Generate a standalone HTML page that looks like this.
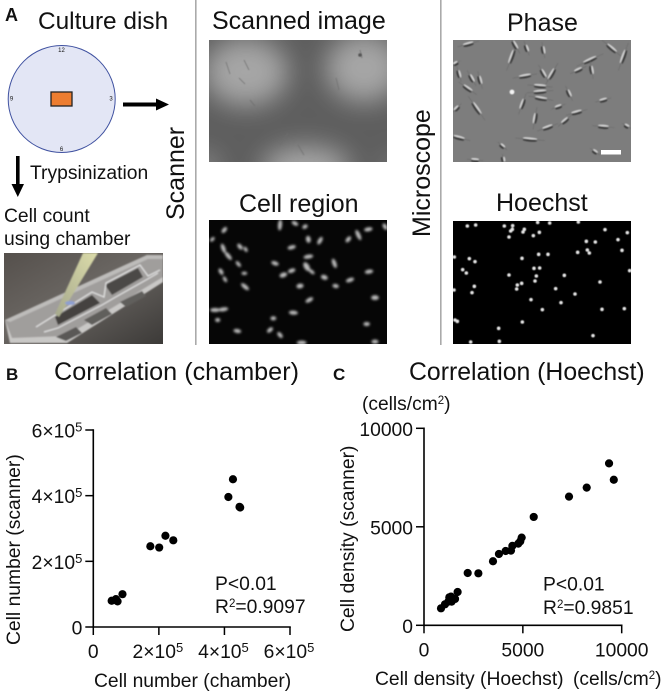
<!DOCTYPE html>
<html><head><meta charset="utf-8">
<style>
html,body{margin:0;padding:0;background:#fff}
svg{display:block}
text{font-family:"Liberation Sans",sans-serif;fill:#111}
.t{font-size:25px}
.m{font-size:19.3px}
.tick{font-size:19.3px}
.ax{font-size:19.3px}
.pl{font-size:17px;font-weight:bold}
</style></head>
<body>
<svg id="fig" xmlns="http://www.w3.org/2000/svg" width="663" height="693" viewBox="0 0 663 693">
<defs>
<filter id="b1" x="-50%" y="-50%" width="200%" height="200%"><feGaussianBlur stdDeviation="1.25"/></filter>
<filter id="b2" x="-20%" y="-20%" width="140%" height="140%"><feGaussianBlur stdDeviation="0.5"/></filter>
<filter id="b3" x="-20%" y="-20%" width="140%" height="140%"><feGaussianBlur stdDeviation="0.8"/></filter>
<filter id="b5" x="-40%" y="-40%" width="180%" height="180%"><feGaussianBlur stdDeviation="13"/></filter>
<clipPath id="c-scan"><rect x="209" y="40" width="178" height="122"/></clipPath>
<clipPath id="c-cell"><rect x="209" y="220" width="178" height="124"/></clipPath>
<clipPath id="c-phase"><rect x="453" y="40" width="178" height="122"/></clipPath>
<clipPath id="c-hoe"><rect x="453" y="221" width="178" height="123"/></clipPath>
<clipPath id="c-photo"><rect x="4" y="253" width="159" height="91"/></clipPath>
<linearGradient id="bench" x1="0" y1="0" x2="1" y2="1"><stop offset="0" stop-color="#55504c"/><stop offset=".45" stop-color="#6a6662"/><stop offset="1" stop-color="#3c3a38"/></linearGradient>
<linearGradient id="tip" x1="0" y1="1" x2="1" y2="0"><stop offset="0" stop-color="#a5a88c"/><stop offset="1" stop-color="#dcdcaa"/></linearGradient>
</defs>

<text class="pl" x="5" y="21" style="font-size:18px;font-weight:bold">A</text>
<text class="t" x="38" y="29" style="font-size:24.4px">Culture dish</text>

<g>
<circle cx="61.7" cy="99" r="53.5" fill="#e3e6f5" stroke="#3f51a0" stroke-width="1"/>
<rect x="51" y="92" width="21" height="14" fill="#ed7d31" stroke="#222" stroke-width="1.3"/>
<text x="61.5" y="52" text-anchor="middle" style="font-size:6px">12</text>
<text x="61.5" y="151" text-anchor="middle" style="font-size:6px">6</text>
<text x="11.5" y="100.5" text-anchor="middle" style="font-size:6px">9</text>
<text x="111" y="100.5" text-anchor="middle" style="font-size:6px">3</text>
</g>
<g><rect x="123" y="102.5" width="35" height="4" fill="#000"/><polygon points="156,98.5 169,104.5 156,110.5" fill="#000"/></g>
<g><rect x="16" y="156" width="3.6" height="30" fill="#000"/><polygon points="11.5,184 24,184 17.8,197" fill="#000"/></g>
<text class="m" x="30" y="179">Trypsinization</text>
<text class="m" x="4" y="222">Cell count</text>
<text class="m" x="4" y="245">using chamber</text>

<g clip-path="url(#c-photo)">
<rect x="4" y="253" width="159" height="91" fill="url(#bench)"/>
<g filter="url(#b3)">
<polygon points="5,320 147,255 163,255 163,282 67,343 10,343" fill="#a09e9c"/>
<polygon points="5,320 10,343 67,343 163,282 163,277 66,336 12,338" fill="#c9c8c6"/>
<polygon points="5,320 147,255 163,255 163,259 148,259 10,322" fill="#bdbcba"/>
<polygon points="55,317 92,295 100,303 58,325" fill="#444240"/>
<polygon points="105,285 138,268 143,277 112,295" fill="#4b4946"/>
<polyline points="36,327 92,292 104,297 106,283 140,265 148,276 160,270" fill="none" stroke="#e4e4e4" stroke-width="1.2"/>
<polyline points="44,332 58,328 102,305 114,298 146,280 158,273" fill="none" stroke="#e0e0e0" stroke-width="1.2"/>
<polygon points="84,320 106,308 112,314 92,325" fill="#605e5c"/>
<polygon points="120,302 142,291 146,296 126,307" fill="#605e5c"/>
<polygon points="56,337 76,327 82,333 66,341" fill="#5a5856"/>
<polygon points="55,314 83,253 98,253 59,317" fill="url(#tip)"/>
<ellipse cx="70" cy="303" rx="5" ry="2" fill="#8d9fd0"/>
</g>
</g>

<g transform="translate(184,220) rotate(-90)"><text class="t" x="0" y="0">Scanner</text></g>
<rect x="195" y="0" width="1.6" height="345" fill="#aaa"/>
<text class="t" x="212" y="29">Scanned image</text>
<text class="t" x="239" y="212">Cell region</text>

<g clip-path="url(#c-scan)">
<rect x="209" y="40" width="178" height="122" fill="#5e5e5e"/>
<g filter="url(#b5)" fill="#a6a6a6">
<ellipse cx="246" cy="72" rx="42" ry="34"/>
<ellipse cx="364" cy="68" rx="38" ry="34"/>
<ellipse cx="306" cy="168" rx="44" ry="22"/>
<ellipse cx="203" cy="168" rx="16" ry="16" opacity=".6"/>
<ellipse cx="394" cy="168" rx="12" ry="14" opacity=".4"/>
</g>
<g stroke="#6e6e6e" stroke-width="1" fill="none" filter="url(#b2)" opacity=".7">
<path d="M226,62 l4,12"/><path d="M244,60 l5,10"/><path d="M239,78 l6,6"/><path d="M360,50 l2,8"/><path d="M336,78 l3,12"/><path d="M250,100 l5,6"/><path d="M280,145 l8,-12"/><path d="M304,155 l-6,-10"/>
</g>
<circle cx="360" cy="55" r="1.8" fill="#555" filter="url(#b2)"/>
</g>

<g id="cell-region" clip-path="url(#c-cell)">
<rect x="209" y="220" width="178" height="124" fill="#060606"/>
</g>

<rect x="440" y="0" width="1.6" height="345" fill="#aaa"/>
<g transform="translate(430,237) rotate(-90)"><text class="t" x="0" y="0">Microscope</text></g>
<text class="t" x="507" y="31">Phase</text>
<text class="t" x="496" y="211">Hoechst</text>

<g id="phase" clip-path="url(#c-phase)">
<rect x="453" y="40" width="178" height="122" fill="#7d7d7d"/>
</g>
<rect x="601" y="150" width="20" height="4.5" fill="#fff"/>

<g id="hoechst" clip-path="url(#c-hoe)">
<rect x="453" y="221" width="178" height="123" fill="#000"/>
</g>

<text class="pl" x="6" y="380">B</text>
<text class="t" x="54" y="380" style="font-size:25.2px">Correlation (chamber)</text>
<text class="pl" x="333" y="380">C</text>
<text class="t" x="409" y="380" style="font-size:24.8px">Correlation (Hoechst)</text>
<text x="362" y="410" style="font-size:19.2px">(cells/cm<tspan dy="-6" style="font-size:11.5px">2</tspan><tspan dy="6">)</tspan></text>

<g id="chart-b"></g>
<g id="chart-c"></g>

<text class="m" x="215" y="590">P&lt;0.01</text>
<text class="m" x="215" y="613">R<tspan dy="-6" style="font-size:11.5px">2</tspan><tspan dy="6">=0.9097</tspan></text>
<text class="m" x="543" y="590.5">P&lt;0.01</text>
<text class="m" x="543" y="614">R<tspan dy="-6" style="font-size:11.5px">2</tspan><tspan dy="6">=0.9851</tspan></text>
<text class="ax" x="94" y="687">Cell number (chamber)</text>
<text class="ax" x="375" y="685">Cell density (Hoechst)</text>
<text x="573" y="685" style="font-size:19.2px">(cells/cm<tspan dy="-6" style="font-size:11.5px">2</tspan><tspan dy="6">)</tspan></text>
<g transform="translate(20,645) rotate(-90)"><text class="ax" x="0" y="0">Cell number (scanner)</text></g>
<g transform="translate(354,632) rotate(-90)"><text class="ax" x="0" y="0">Cell density (scanner)</text></g>
</svg>

<script>
const NS = 'http://www.w3.org/2000/svg';

// Chart B data
const bTicks = [0, 200000, 400000, 600000];
const bX = [56000, 69000, 74000, 89000, 174000, 201000, 220000, 244000, 412000, 426000, 446000, 448000];
const bY = [80000, 85000, 78000, 100000, 246000, 242000, 278000, 264000, 396000, 450000, 366000, 364000];

// Chart C data
const cTicks = [0, 5000, 10000];
const cX = [860, 1060, 1230, 1280, 1366, 1400, 1570, 1700, 2210, 2750, 3490, 3790, 4130, 4400, 4470, 4770, 4870, 4940, 5550, 7335, 8230, 9360, 9600];
const cY = [863, 1066, 1200, 1420, 1455, 1200, 1337, 1690, 2656, 2640, 3250, 3620, 3770, 3790, 4030, 4145, 4264, 4450, 5500, 6530, 6990, 8220, 7390];

// Microscopy decoration
const cellBlobs = [[88,690,8,4,-50],[52,718,6,3,-45],[85,745,12,4,70],[100,768,12,4,50],[130,792,8,3,50],[135,740,8,4,50],[152,748,6,3,60],[78,815,8,4,60],[90,838,7,3,60],[148,820,6,3,0],[150,860,12,4,40],[240,790,9,4,20],[265,825,9,5,-20],[290,812,9,4,-20],[315,858,8,5,-10],[290,742,10,4,-15],[340,718,8,5,80],[375,722,10,4,-60],[460,718,8,4,-50],[490,705,14,4,65],[520,688,10,4,-10],[255,675,14,4,-85],[300,670,8,4,30],[330,680,6,4,-30],[340,770,12,4,-10],[335,800,12,6,60],[350,815,8,3,40],[418,790,12,4,70],[388,832,8,5,20],[422,858,7,4,10],[465,840,10,4,-20],[522,815,10,4,-10],[343,900,10,4,-30],[295,938,11,4,5],[540,893,9,5,0],[85,928,12,4,-8],[60,930,12,4,0],[235,955,6,4,0],[225,990,8,4,-40],[255,1005,8,4,50],[127,993,9,4,10],[68,960,5,4,0],[515,972,7,4,0],[320,1028,12,4,0],[540,1025,8,4,0],[570,680,8,4,60]];
const hoeDots = [[97,678],[122,675],[208,678],[233,677],[232,688],[227,693],[222,711],[268,688],[264,696],[295,707],[313,697],[308,667],[344,669],[430,666],[510,689],[577,698],[549,719],[454,724],[481,726],[457,750],[463,759],[428,757],[561,751],[58,771],[103,776],[120,785],[261,775],[311,763],[339,763],[83,809],[94,819],[297,805],[314,804],[222,825],[304,828],[300,843],[388,826],[584,812],[495,846],[260,850],[247,855],[245,867],[118,859],[111,878],[57,870],[362,866],[420,882],[288,899],[378,908],[322,929],[501,928],[568,926],[60,960],[67,964],[262,966],[191,985],[474,1007],[107,1026],[193,1024]];
const phaseCells = [[100,132,30,-15],[230,170,40,-70],[240,135,26,60],[275,145,20,70],[325,150,22,80],[72,222,22,75],[110,235,24,60],[135,240,24,75],[98,265,30,35],[270,228,34,-10],[325,220,26,60],[350,222,34,-60],[430,210,24,-25],[465,180,40,-25],[470,210,24,80],[530,145,34,40],[565,170,40,-70],[62,190,14,-30],[315,258,34,5],[315,275,36,-5],[318,295,34,10],[262,312,30,-70],[402,280,22,65],[370,320,20,-20],[505,300,22,-15],[125,325,40,55],[65,325,18,-45],[300,355,30,-80],[338,382,30,-20],[390,362,24,-40],[425,337,30,-15],[505,380,30,5],[575,378,14,30],[72,413,32,15],[285,418,40,5],[202,438,16,40],[120,480,22,5],[205,478,14,80],[480,455,16,35]];

function make(tag, attrs, parent) {
  const el = document.createElementNS(NS, tag);
  for (const k in attrs) el.setAttribute(k, attrs[k]);
  parent.appendChild(el);
  return el;
}

function drawBlobs() {
  const host = document.getElementById('cell-region');
  const g = make('g', {filter: 'url(#b1)'}, host);
  cellBlobs.forEach(function (b) {
    const x = 195 + b[0] / 3, y = b[1] / 3;
    const e = make('ellipse', {cx: x, cy: y, rx: b[2] / 3 + 0.9, ry: b[3] / 3 + 0.7, fill: '#bdbdbd', transform: 'rotate(' + b[4] + ' ' + x + ' ' + y + ')'}, g);
    
    
  });
}

function drawHoechst() {
  const host = document.getElementById('hoechst');
  const g = make('g', {filter: 'url(#b2)'}, host);
  hoeDots.forEach(function (d) {
    const c = make('circle', {cx: 435 + d[0] / 3, cy: d[1] / 3, r: 1.8, fill: '#e4e4e4'}, g);
    
    
  });
}

function drawPhase() {
  const host = document.getElementById('phase');
  const g = make('g', {filter: 'url(#b2)', fill: 'none', 'stroke-linecap': 'round'}, host);
  phaseCells.forEach(function (p) {
    const x = 435 + p[0] / 3, y = p[1] / 3, l = p[2] / 5.5;
    const tf = 'rotate(' + p[3] + ' ' + x + ' ' + y + ')';
    const tail = make('line', {x1: x - l * 2, y1: y, x2: x + l * 2, y2: y, stroke: '#6a6a6a', 'stroke-width': 0.6, transform: tf}, g);
    
    
    const dark = make('ellipse', {cx: x, cy: y + 1.2, rx: l, ry: 1.2, fill: '#404040', transform: tf}, g);
    
    
    const light = make('ellipse', {cx: x, cy: y - 1, rx: l, ry: 1, fill: '#cfcfcf', transform: tf}, g);
    
    
  });
  const bright = make('circle', {cx: 512, cy: 92, r: 2.4, fill: '#f4f4f4'}, g);
  
  
}

function tickLabel(parent, x, y, anchor) {
  const t = make('text', {x: x, y: y, 'text-anchor': anchor, class: 'tick'}, parent);
  
  
  return t;
}

function writeSci(t, v) {
  if (v === 0) { t.textContent = '0'; return; }
  const e = Math.floor(Math.log10(v)), m = Math.round(v / Math.pow(10, e));
  t.textContent = m + '×10';
  const s = document.createElementNS(NS, 'tspan');
  s.setAttribute('dy', '-6');
  s.setAttribute('style', 'font-size:13px');
  s.textContent = String(e);
  t.appendChild(s);
}

function chart(hostId, xs, ys, ticks, max, box, sci) {
  const host = document.getElementById(hostId);
  const sx = function (v) { return box.x0 + v / max * (box.x1 - box.x0); };
  const sy = function (v) { return box.y0 - v / max * (box.y0 - box.y1); };

  const ya = make('line', {x1: box.x0, x2: box.x0, y1: box.y1 - 0.8, y2: box.y0 + 0.8, stroke: '#000', 'stroke-width': 1.6}, host);
  
  
  const xa = make('line', {x1: box.x0 - 0.8, x2: box.x1 + 0.8, y1: box.y0, y2: box.y0, stroke: '#000', 'stroke-width': 1.6}, host);
  
  

  ticks.forEach(function (v) {
    const tx = make('line', {x1: sx(v), x2: sx(v), y1: box.y0, y2: box.y0 + 8, stroke: '#000', 'stroke-width': 1.5}, host);
    
    
    const ty = make('line', {x1: box.x0 - 8, x2: box.x0, y1: sy(v), y2: sy(v), stroke: '#000', 'stroke-width': 1.5}, host);
    
    
    const lx = tickLabel(host, sx(v) - (sci && v ? 1 : 0), box.y0 + 31, 'middle');
    const ly = tickLabel(host, box.x0 - 11, sy(v) + 7.5, 'end');
    if (sci) { writeSci(lx, v); writeSci(ly, v); }
    else { lx.textContent = String(v); ly.textContent = String(v); }
  });

  xs.forEach(function (x, i) {
    const c = make('circle', {cx: sx(x), cy: sy(ys[i]), r: 4.1, fill: '#000'}, host);
    
    
  });
}

drawBlobs();
drawHoechst();
drawPhase();
chart('chart-b', bX, bY, bTicks, 600000, {x0: 93.3, x1: 290, y0: 627, y1: 430}, true);
chart('chart-c', cX, cY, cTicks, 10000, {x0: 424, x1: 621.7, y0: 625.3, y1: 428.3}, false);
</script>
</body></html>
